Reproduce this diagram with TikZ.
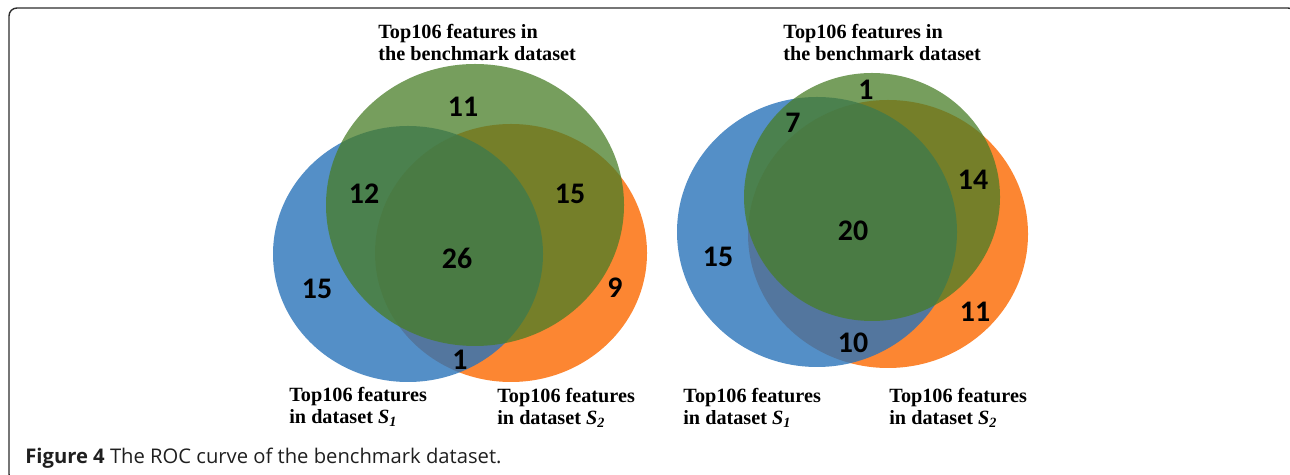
\documentclass[tikz,border=0pt]{standalone}
\usepackage{fontspec}
\setmainfont{Liberation Serif}
\newfontfamily\numfont{Carlito}
\newfontfamily\capfont{Open Sans}
\usepackage{xcolor}
\usepackage{tikz}
\usetikzlibrary{positioning}
\definecolor{vennBlue}{RGB}{41, 115, 185}
\definecolor{vennOrange}{RGB}{252, 134, 50}
\definecolor{vennGreen}{RGB}{72, 125, 39}
\definecolor{frameGray}{RGB}{45, 45, 45}

\tikzset{
    setS1/.style={fill=vennBlue, fill opacity=0.8},
    setS2/.style={fill=vennOrange},
    setBench/.style={fill=vennGreen, fill opacity=0.75},
    count/.style={font=\numfont\bfseries\fontsize{17}{17}\selectfont, inner sep=0pt},
    setname/.style={font=\bfseries\fontsize{11.5}{12.5}\selectfont, align=left, inner sep=0pt, anchor=north west}
}

\begin{document}
\begin{tikzpicture}[x=0.02cm, y=-0.02cm]
            \useasboundingbox (0,0) rectangle (1290,475);
            % frame
            \draw[frameGray, line width=0.8pt, rounded corners=0.16cm] (9,482) rectangle (1296,8);

            % left diagram
            \fill[setS2] (511,253) ellipse [x radius=136, y radius=129];
            \fill[setS1] (408,254) ellipse [x radius=135, y radius=128];
            \fill[setBench] (475,205) ellipse [x radius=149, y radius=141];
            \node[count] (L11) at (463,107) {11};
            \node[count] (L12) at (364,194) {12};
            \node[count] (L15b) at (570,194) {15};
            \node[count] (L26) at (457,258) {26};
            \node[count] (L15a) at (317,289) {15};
            \node[count] (L9) at (615,288) {9};
            \node[count] (L1) at (460,360) {1};
            \node[setname] (LB) at (378,24) {Top106 features in\\the benchmark dataset};
            \node[setname] (LS1) at (289,387) {Top106 features\\in dataset \textit{S}\textsubscript{\textit{1}}};
            \node[setname] (LS2) at (497,388) {Top106 features\\in dataset \textit{S}\textsubscript{\textit{2}}};

            % right diagram
            \fill[setS2] (888,234) ellipse [x radius=140, y radius=134];
            \fill[setS1] (817,232) ellipse [x radius=140, y radius=135];
            \fill[setBench] (872,197) ellipse [x radius=128, y radius=124];
            \node[count] (R1) at (866,90) {1};
            \node[count] (R7) at (793,123) {7};
            \node[count] (R14) at (973,180) {14};
            \node[count] (R20) at (853,231) {20};
            \node[count] (R15) at (718,257) {15};
            \node[count] (R11) at (975,312) {11};
            \node[count] (R10) at (853,343) {10};
            \node[setname] (RB) at (783,24) {Top106 features in\\the benchmark dataset};
            \node[setname] (RS1) at (683,388) {Top106 features\\in dataset \textit{S}\textsubscript{\textit{1}}};
            \node[setname] (RS2) at (889,388) {Top106 features\\in dataset \textit{S}\textsubscript{\textit{2}}};

            % caption
            \node[anchor=base west, inner sep=0pt, text=black!88, font=\capfont\fontsize{11.5}{13}\selectfont] (cap) at (25,463) {\textbf{Figure 4} The ROC curve of the benchmark dataset.};
        \end{tikzpicture}
\end{document}
